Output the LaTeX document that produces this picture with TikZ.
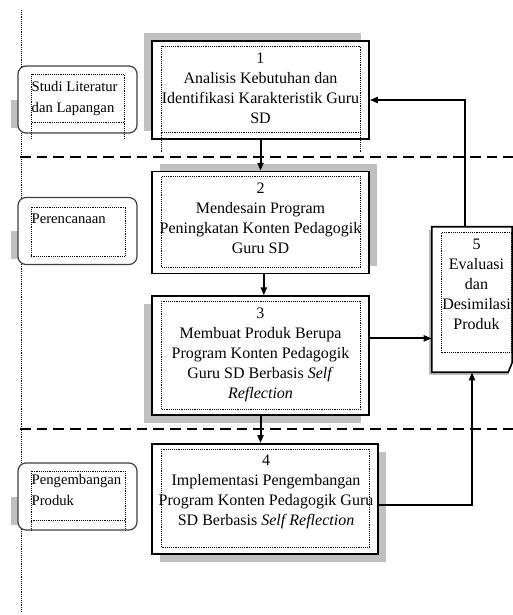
\documentclass[tikz,border=0pt]{standalone}
\usepackage{fontspec}
\setmainfont{Liberation Serif}
\definecolor{ShadeGray}{HTML}{C0C0C0}
\definecolor{StageLine}{HTML}{404040}
\usetikzlibrary{arrows.meta,positioning,shadows}
\tikzset{
  shade/.style 2 args={general shadow={fill=ShadeGray, shadow xshift=#1, shadow yshift=#2}},
  stepbox/.style={draw=black, fill=white, line width=1.2pt, minimum width=162.75pt, inner sep=0pt},
  stagebox/.style={draw=StageLine, rounded corners=6pt, fill=white, line width=0.9pt, minimum width=89.25pt, minimum height=50.25pt},
  dotbox/.style={draw=black, line width=0.6pt, dash pattern=on 0.6pt off 0.8pt},
  boxtext/.style={inner sep=0pt, align=center, anchor=north},
  stagetext/.style={inner sep=0pt, align=left, anchor=north west, font=\fontsize{11pt}{15.5pt}\selectfont},
  arrow/.style={-{Triangle[length=6pt,width=4.5pt]}, line width=1.5pt},
  divider/.style={line width=2.2pt, dash pattern=on 8pt off 4.5pt}
}

\begin{document}
\begin{tikzpicture}[x=0.75pt, y=-0.75pt, every node/.style={font=\fontsize{12pt}{15pt}\selectfont}]
    \useasboundingbox (0,0) rectangle (513,615);

    % side line and stage dividers
    \draw[dotbox] (21,10) -- (21,612);
    \draw[divider] (20,157) -- (513,157);
    \draw[divider] (20,429) -- (513,429);

    % stages
    \coordinate (studi-c) at (77.5,99.5);
    \coordinate (rencana-c) at (77.5,231);
    \coordinate (kembang-c) at (77.5,496.5);
    \foreach \c in {studi-c,rencana-c,kembang-c}
      \fill[ShadeGray] ([shift={(-66.5,0)}]\c) rectangle ([shift={(-55,28)}]\c);
    \node[stagebox] (studi) at (studi-c) {};
    \node[stagebox] (rencana) at (rencana-c) {};
    \node[stagebox] (kembang) at (kembang-c) {};
    \draw[dotbox] ([shift={(14,9)}]studi.north west) rectangle ([shift={(-13,-11)}]studi.south east);
    \draw[dotbox] ([shift={(14,10)}]rencana.north west) rectangle ([shift={(-12,-9)}]rencana.south east);
    \draw[dotbox] ([shift={(14,9)}]kembang.north west) rectangle ([shift={(-12,-10)}]kembang.south east);
    \draw[dotbox] ([shift={(14,-11)}]studi.south west) -- ++(0,15);
    \draw[dotbox] ([shift={(-13,-11)}]studi.south east) -- ++(0,15);
    \draw[dotbox] ([shift={(14,-10)}]kembang.south west) -- ++(0,10);
    \draw[dotbox] ([shift={(-12,-10)}]kembang.south east) -- ++(0,10);
    \node[stagetext] (studi-t) at ([shift={(14,16)}]studi.north west) {Studi Literatur\\dan Lapangan};
    \node[stagetext] (rencana-t) at ([shift={(14,17)}]rencana.north west) {Perencanaan};
    \node[stagetext] (kembang-t) at ([shift={(14,12)}]kembang.north west) {Pengembangan\\Produk};

    % steps
    \node[stepbox, shade={-6pt}{6pt}, minimum height=73.5pt] (analisis) at (260.5,90) {};
    \node[stepbox, shade={6pt}{6pt}, minimum height=76.5pt, below=23.25pt of analisis] (desain) {};
    \node[stepbox, shade={-6pt}{-6pt}, minimum height=89.25pt, below=15.75pt of desain] (produk) {};
    \node[stepbox, shade={6pt}{-6pt}, minimum width=169.5pt, minimum height=82.5pt, below=20.25pt of produk, xshift=3.4pt] (implementasi) {};
    \node[minimum width=60pt, minimum height=108.75pt, inner sep=0pt] (evaluasi) at (472,299.5) {};
    \fill[ShadeGray] ([shift={(-3,3)}]evaluasi.north west) rectangle ([shift={(-3,3)}]evaluasi.south east);
    \draw[line width=1.2pt, fill=white] (evaluasi.north west) -- (evaluasi.north east) -- ([shift={(0,-10)}]evaluasi.south east)
      -- ([shift={(-4,0)}]evaluasi.south east) -- (evaluasi.south west) -- cycle;

    \foreach \n in {analisis,desain,produk,implementasi}
      \draw[dotbox] ([shift={(10,6)}]\n.north west) rectangle ([shift={(-9,-7)}]\n.south east);
    \draw[dotbox] ([shift={(10,6)}]evaluasi.north west) rectangle ([shift={(-1,-20)}]evaluasi.south east);
    \draw[dotbox] ([shift={(10,-7)}]analisis.south west) -- ++(0,20);
    \draw[dotbox] ([shift={(-9,-7)}]analisis.south east) -- ++(0,20);

    \node[boxtext] (analisis-t) at ([yshift=-9pt]analisis.north) {1\\Analisis Kebutuhan dan\\Identifikasi Karakteristik Guru\\SD};
    \node[boxtext] (desain-t) at ([yshift=-9pt]desain.north) {2\\Mendesain Program\\Peningkatan Konten Pedagogik\\Guru SD};
    \node[boxtext] (produk-t) at ([yshift=-9pt]produk.north) {3\\Membuat Produk Berupa\\Program Konten Pedagogik\\Guru SD Berbasis \textit{Self}\\\textit{Reflection}};
    \node[boxtext] (implementasi-t) at ([shift={(1,-9pt)}]implementasi.north) {4\\Implementasi Pengembangan\\Program Konten Pedagogik Guru\\SD Berbasis \textit{Self Reflection}};
    \node[boxtext] (evaluasi-t) at ([shift={(4.5,-9pt)}]evaluasi.north) {5\\Evaluasi\\dan\\Desimilasi\\Produk};

    \draw[arrow] (analisis) -- (desain);
    \draw[arrow] ([xshift=2.5pt]desain.south) -- ([xshift=2.5pt]produk.north);
    \draw[arrow] (produk.south) -- (produk.south |- implementasi.north);
    \draw[arrow] ([yshift=13pt]produk.east) -- ([yshift=13pt]produk.east -| evaluasi.west);
    \draw[arrow] ([yshift=-4.5pt]implementasi.east) -| (evaluasi.south);
    \draw[arrow] ([xshift=-5.25pt]evaluasi.north) |- ([yshift=-7.5pt]analisis.east);
  \end{tikzpicture}
\end{document}
